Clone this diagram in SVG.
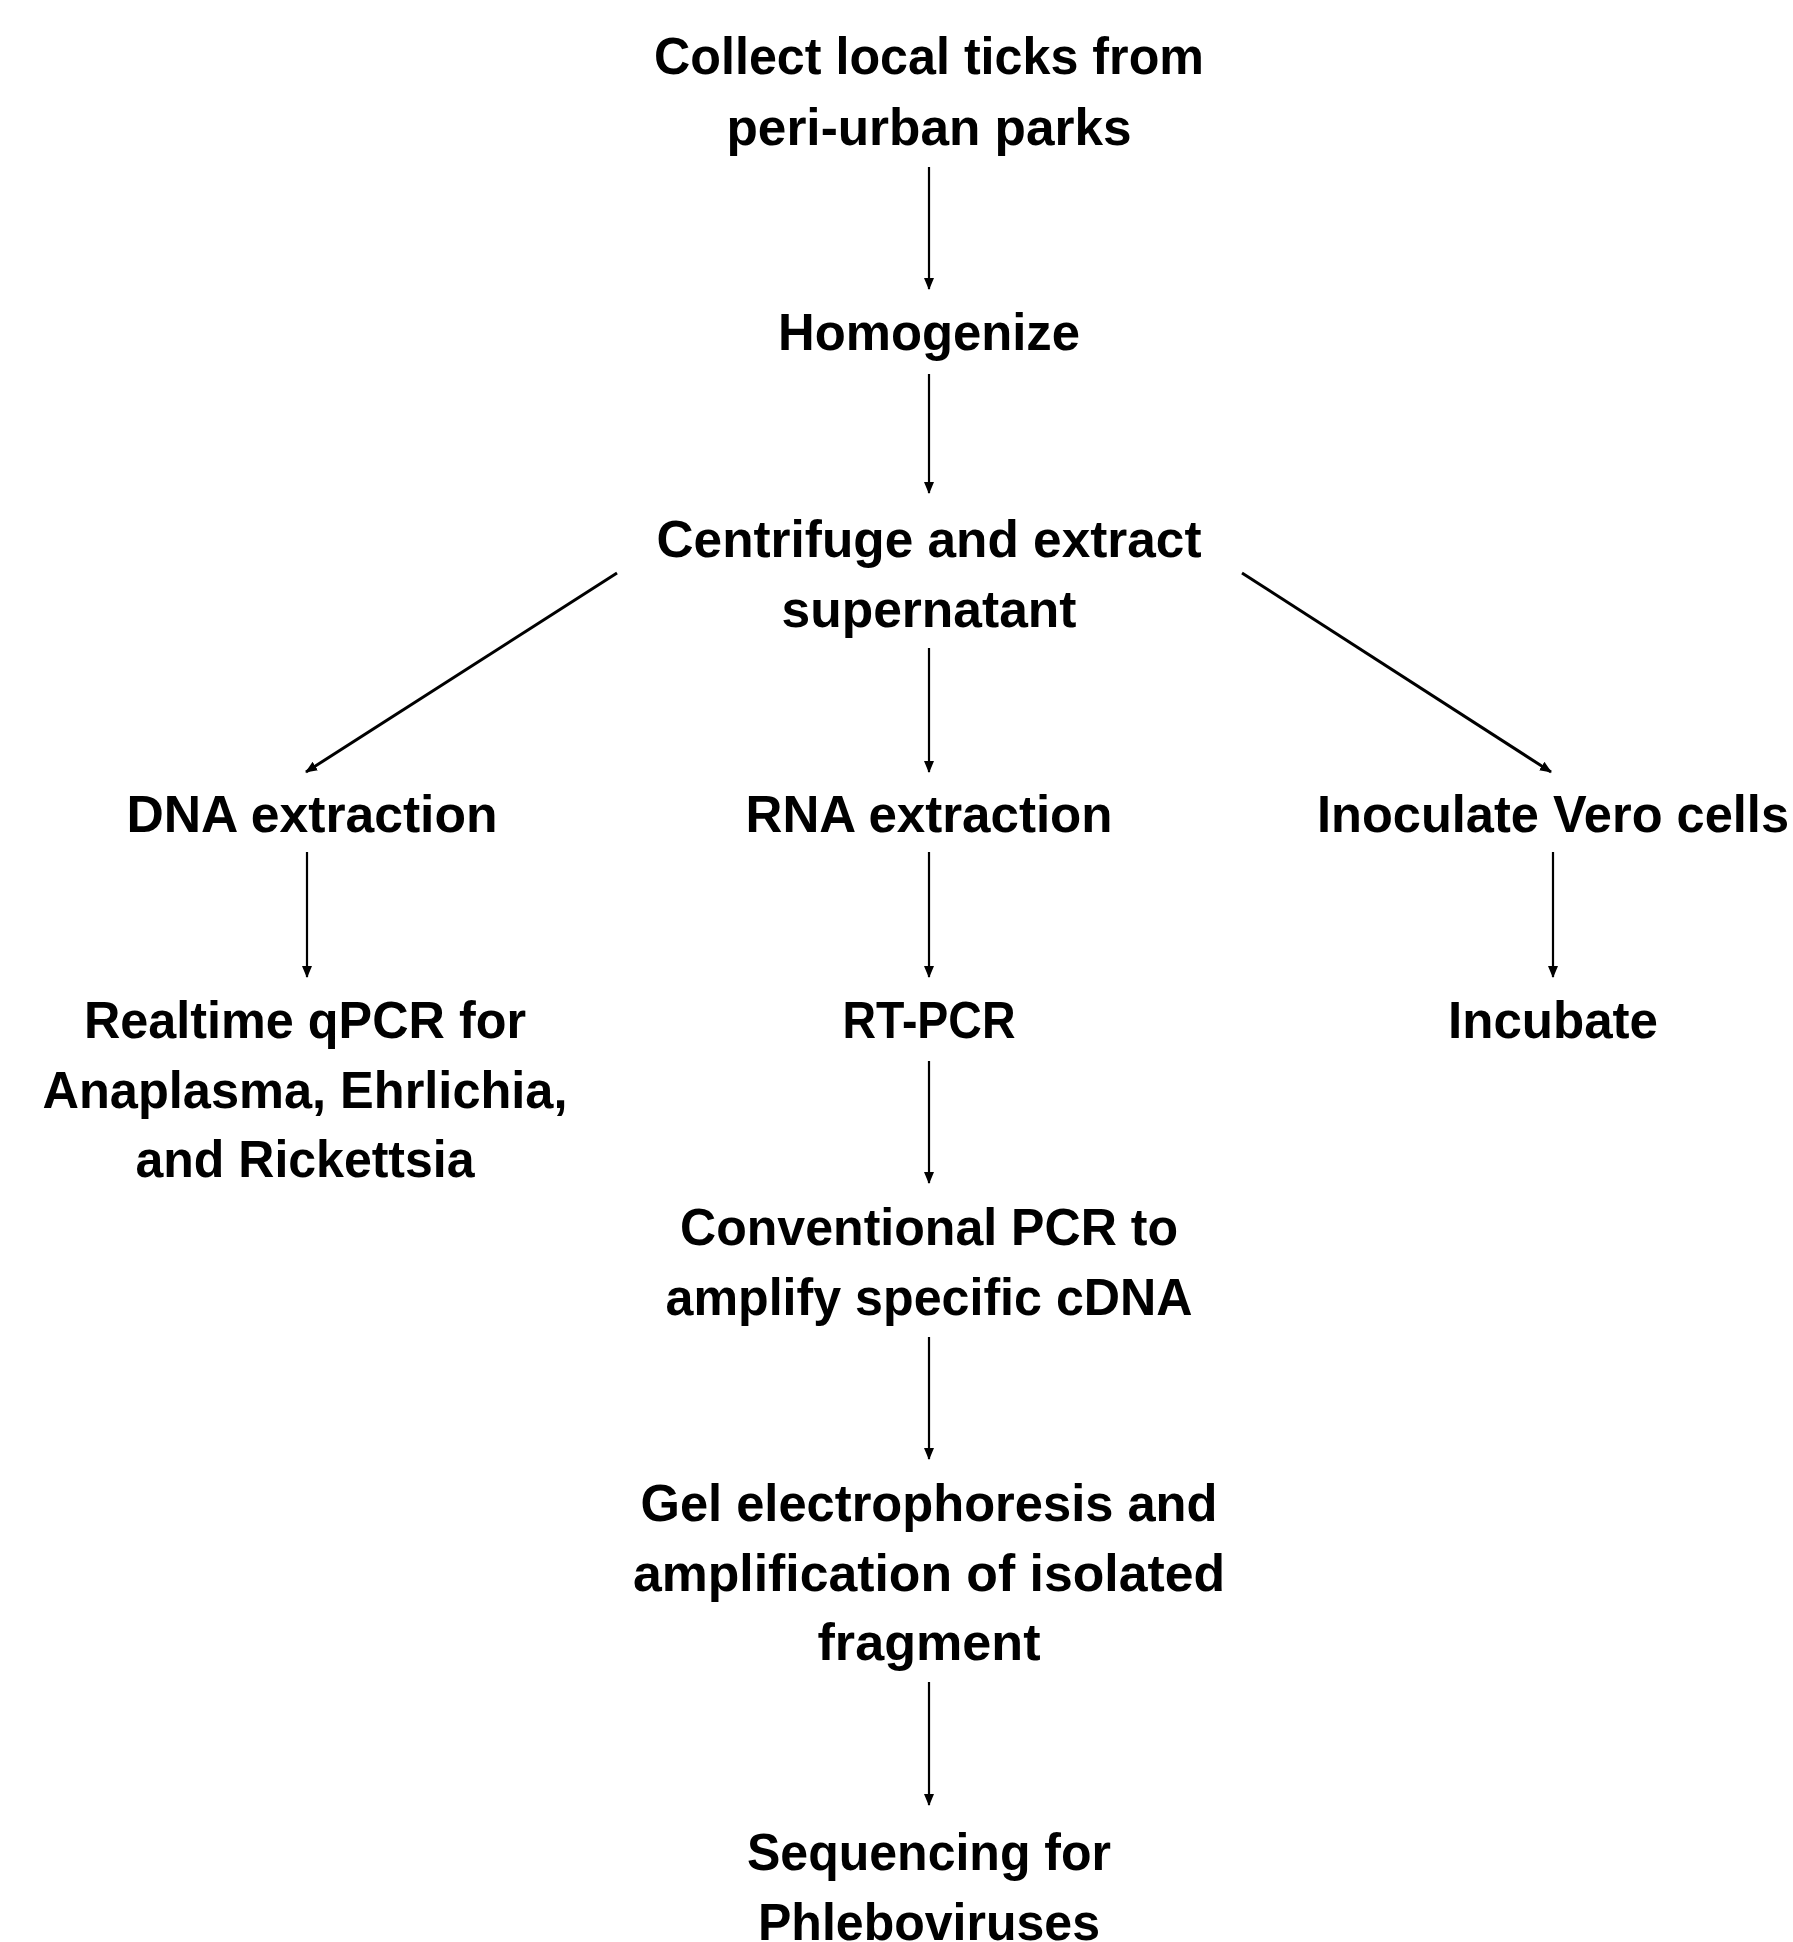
<svg xmlns="http://www.w3.org/2000/svg" width="1793" height="1942" viewBox="0 0 1793 1942">
<defs>
<style>
text{font-family:"Liberation Sans",Arial,sans-serif;font-weight:bold;font-size:52px;fill:#000;text-anchor:middle}
.c line{stroke:#000;stroke-width:2.2;fill:none}
.c line.d{stroke-width:3}
</style>
<marker id="ah" markerUnits="userSpaceOnUse" markerWidth="12" markerHeight="12" viewBox="0 0 12 12" refX="11" refY="6" orient="auto">
<path d="M0,1 L12,6 L0,11 z" fill="#000"/>
</marker>
</defs>
<rect width="1793" height="1942" fill="#fff"/>
<g id="connectors" class="c">
<line x1="929" y1="167" x2="929" y2="289" marker-end="url(#ah)"/>
<line x1="929" y1="374" x2="929" y2="493" marker-end="url(#ah)"/>
<line x1="929" y1="648" x2="929" y2="772" marker-end="url(#ah)"/>
<line class="d" x1="617" y1="573" x2="306" y2="772" marker-end="url(#ah)"/>
<line class="d" x1="1242" y1="573" x2="1551" y2="772" marker-end="url(#ah)"/>
<line x1="307" y1="852" x2="307" y2="977" marker-end="url(#ah)"/>
<line x1="929" y1="852" x2="929" y2="977" marker-end="url(#ah)"/>
<line x1="1553" y1="852" x2="1553" y2="977" marker-end="url(#ah)"/>
<line x1="929" y1="1061" x2="929" y2="1183" marker-end="url(#ah)"/>
<line x1="929" y1="1337" x2="929" y2="1459" marker-end="url(#ah)"/>
<line x1="929" y1="1682" x2="929" y2="1805" marker-end="url(#ah)"/>
</g>
<g id="collect">
<text x="929" y="74" textLength="550" lengthAdjust="spacingAndGlyphs">Collect local ticks from</text>
<text x="929" y="145" textLength="405" lengthAdjust="spacingAndGlyphs">peri-urban parks</text>
</g>
<g id="homogenize">
<text x="929" y="350" textLength="302" lengthAdjust="spacingAndGlyphs">Homogenize</text>
</g>
<g id="centrifuge">
<text x="929" y="557" textLength="545" lengthAdjust="spacingAndGlyphs">Centrifuge and extract</text>
<text x="929" y="627" textLength="295" lengthAdjust="spacingAndGlyphs">supernatant</text>
</g>
<g id="dna">
<text x="312" y="832" textLength="371" lengthAdjust="spacingAndGlyphs">DNA extraction</text>
</g>
<g id="rna">
<text x="929" y="832" textLength="367" lengthAdjust="spacingAndGlyphs">RNA extraction</text>
</g>
<g id="inoculate">
<text x="1553" y="832" textLength="472" lengthAdjust="spacingAndGlyphs">Inoculate Vero cells</text>
</g>
<g id="qpcr">
<text x="305" y="1038" textLength="442" lengthAdjust="spacingAndGlyphs">Realtime qPCR for</text>
<text x="305" y="1108" textLength="525" lengthAdjust="spacingAndGlyphs">Anaplasma, Ehrlichia,</text>
<text x="305" y="1177" textLength="339" lengthAdjust="spacingAndGlyphs">and Rickettsia</text>
</g>
<g id="rtpcr">
<text x="929" y="1038" textLength="173" lengthAdjust="spacingAndGlyphs">RT-PCR</text>
</g>
<g id="incubate">
<text x="1553" y="1038" textLength="210" lengthAdjust="spacingAndGlyphs">Incubate</text>
</g>
<g id="conventional">
<text x="929" y="1245" textLength="498" lengthAdjust="spacingAndGlyphs">Conventional PCR to</text>
<text x="929" y="1315" textLength="527" lengthAdjust="spacingAndGlyphs">amplify specific cDNA</text>
</g>
<g id="gel">
<text x="929" y="1521" textLength="577" lengthAdjust="spacingAndGlyphs">Gel electrophoresis and</text>
<text x="929" y="1591" textLength="592" lengthAdjust="spacingAndGlyphs">amplification of isolated</text>
<text x="929" y="1660" textLength="223" lengthAdjust="spacingAndGlyphs">fragment</text>
</g>
<g id="sequencing">
<text x="929" y="1870" textLength="364" lengthAdjust="spacingAndGlyphs">Sequencing for</text>
<text x="929" y="1940" textLength="342" lengthAdjust="spacingAndGlyphs">Phleboviruses</text>
</g>
</svg>
